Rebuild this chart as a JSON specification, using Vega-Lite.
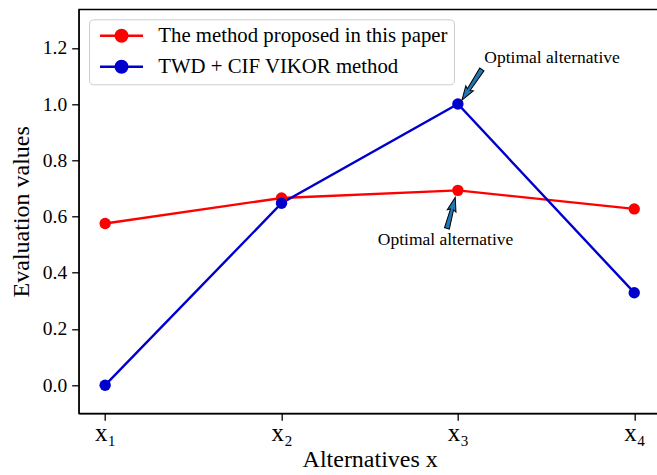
{
  "$schema": "https://vega.github.io/schema/vega-lite/v6.json",
  "width": 600,
  "height": 404,
  "autosize": "none",
  "padding": {"left": 78.7, "top": 9.3, "right": 0, "bottom": 62},
  "background": "#ffffff",
  "datasets": {
    "scores": [
      {"alt": 1, "value": 0.575, "method": "The method proposed in this paper"},
      {"alt": 2, "value": 0.666, "method": "The method proposed in this paper"},
      {"alt": 3, "value": 0.693, "method": "The method proposed in this paper"},
      {"alt": 4, "value": 0.627, "method": "The method proposed in this paper"},
      {"alt": 1, "value": 0.0, "method": "TWD + CIF VIKOR method"},
      {"alt": 2, "value": 0.647, "method": "TWD + CIF VIKOR method"},
      {"alt": 3, "value": 1.0, "method": "TWD + CIF VIKOR method"},
      {"alt": 4, "value": 0.329, "method": "TWD + CIF VIKOR method"}
    ],
    "noteTop": [
      {"tipX": 3.023, "tipY": 1.014, "textX": 3.15, "textY": 1.147, "label": "Optimal alternative"}
    ],
    "noteBottom": [
      {"tipX": 2.985, "tipY": 0.668, "textX": 2.93, "textY": 0.5, "label": "Optimal alternative"}
    ]
  },
  "config": {
    "view": {"stroke": "#000000", "strokeWidth": 1.3},
    "axis": {
      "grid": false,
      "domainColor": "#000000",
      "domainWidth": 1.3,
      "tickColor": "#000000",
      "tickWidth": 1.3,
      "tickSize": 7,
      "labelFont": "Liberation Serif",
      "labelColor": "#000000",
      "titleFont": "Liberation Serif",
      "titleFontWeight": "normal",
      "titleColor": "#000000",
      "titleFontSize": 24
    },
    "legend": {
      "orient": "none",
      "legendX": 10.3,
      "legendY": 10,
      "fillColor": "rgba(255,255,255,0.8)",
      "strokeColor": "#cccccc",
      "cornerRadius": 4,
      "padding": 6,
      "labelFont": "Liberation Serif",
      "labelFontSize": 20.8,
      "labelColor": "#000000",
      "labelLimit": 500,
      "labelOffset": 42.5,
      "rowPadding": 8,
      "symbolType": "M-1,0H7M4.08,0A1.08,1.08,0,1,1,1.92,0A1.08,1.08,0,1,1,4.08,0Z",
      "symbolSize": 115.6,
      "symbolStrokeWidth": 2.4
    }
  },
  "layer": [
    {
      "data": {"name": "scores"},
      "mark": {"type": "line", "strokeWidth": 2.4},
      "encoding": {
        "x": {
          "field": "alt",
          "type": "quantitative",
          "scale": {"domain": [0.85, 4.252], "nice": false, "zero": false},
          "axis": {
            "title": "Alternatives x",
            "values": [1, 2, 3, 4],
            "labelExpr": "'x' + ['₁','₂','₃','₄'][datum.value - 1]",
            "labelFontSize": 25,
            "labelPadding": 0,
            "titleX": 291,
            "titleY": 53.4,
            "titleAlign": "center",
            "titleBaseline": "alphabetic"
          }
        },
        "y": {
          "field": "value",
          "type": "quantitative",
          "scale": {"domain": [-0.1, 1.337], "nice": false, "zero": false},
          "axis": {
            "title": "Evaluation values",
            "values": [0, 0.2, 0.4, 0.6, 0.8, 1.0, 1.2],
            "format": ".1f",
            "labelFontSize": 19.5,
            "labelPadding": 5,
            "titlePadding": 9
          }
        },
        "color": {
          "field": "method",
          "type": "nominal",
          "scale": {
            "domain": ["The method proposed in this paper", "TWD + CIF VIKOR method"],
            "range": ["#ff0000", "#0000cd"]
          },
          "legend": {
            "title": null,
            "encode": {
              "symbols": {
                "update": {
                  "fill": {"scale": "color", "field": "value"},
                  "stroke": {"scale": "color", "field": "value"},
                  "strokeWidth": {"value": 2.4}
                }
              }
            }
          }
        }
      }
    },
    {
      "data": {"name": "scores"},
      "mark": {"type": "point", "filled": true, "opacity": 1, "size": 130},
      "encoding": {
        "x": {"field": "alt", "type": "quantitative"},
        "y": {"field": "value", "type": "quantitative"},
        "color": {"field": "method", "type": "nominal"}
      }
    },
    {
      "data": {"name": "noteTop"},
      "mark": {
        "type": "point",
        "shape": "M0,0L4.5,14L1.6,12.5L2.5,36.6L-2.5,36.6L-1.6,12.5L-4.5,14Z",
        "size": 4,
        "angle": 213,
        "filled": true,
        "fill": "#1f77b4",
        "stroke": "#000000",
        "strokeWidth": 1,
        "opacity": 1
      },
      "encoding": {
        "x": {"field": "tipX", "type": "quantitative"},
        "y": {"field": "tipY", "type": "quantitative"}
      }
    },
    {
      "data": {"name": "noteBottom"},
      "mark": {
        "type": "point",
        "shape": "M0,0L4.5,14L1.6,12.5L2.5,32.1L-2.5,32.1L-1.6,12.5L-4.5,14Z",
        "size": 4,
        "angle": 15,
        "filled": true,
        "fill": "#1f77b4",
        "stroke": "#000000",
        "strokeWidth": 1,
        "opacity": 1
      },
      "encoding": {
        "x": {"field": "tipX", "type": "quantitative"},
        "y": {"field": "tipY", "type": "quantitative"}
      }
    },
    {
      "data": {"name": "noteTop"},
      "mark": {"type": "text", "font": "Liberation Serif", "fontSize": 17.5, "align": "left", "baseline": "alphabetic", "color": "#000000"},
      "encoding": {
        "x": {"field": "textX", "type": "quantitative"},
        "y": {"field": "textY", "type": "quantitative"},
        "text": {"field": "label"}
      }
    },
    {
      "data": {"name": "noteBottom"},
      "mark": {"type": "text", "font": "Liberation Serif", "fontSize": 17.5, "align": "center", "baseline": "alphabetic", "color": "#000000"},
      "encoding": {
        "x": {"field": "textX", "type": "quantitative"},
        "y": {"field": "textY", "type": "quantitative"},
        "text": {"field": "label"}
      }
    }
  ]
}
